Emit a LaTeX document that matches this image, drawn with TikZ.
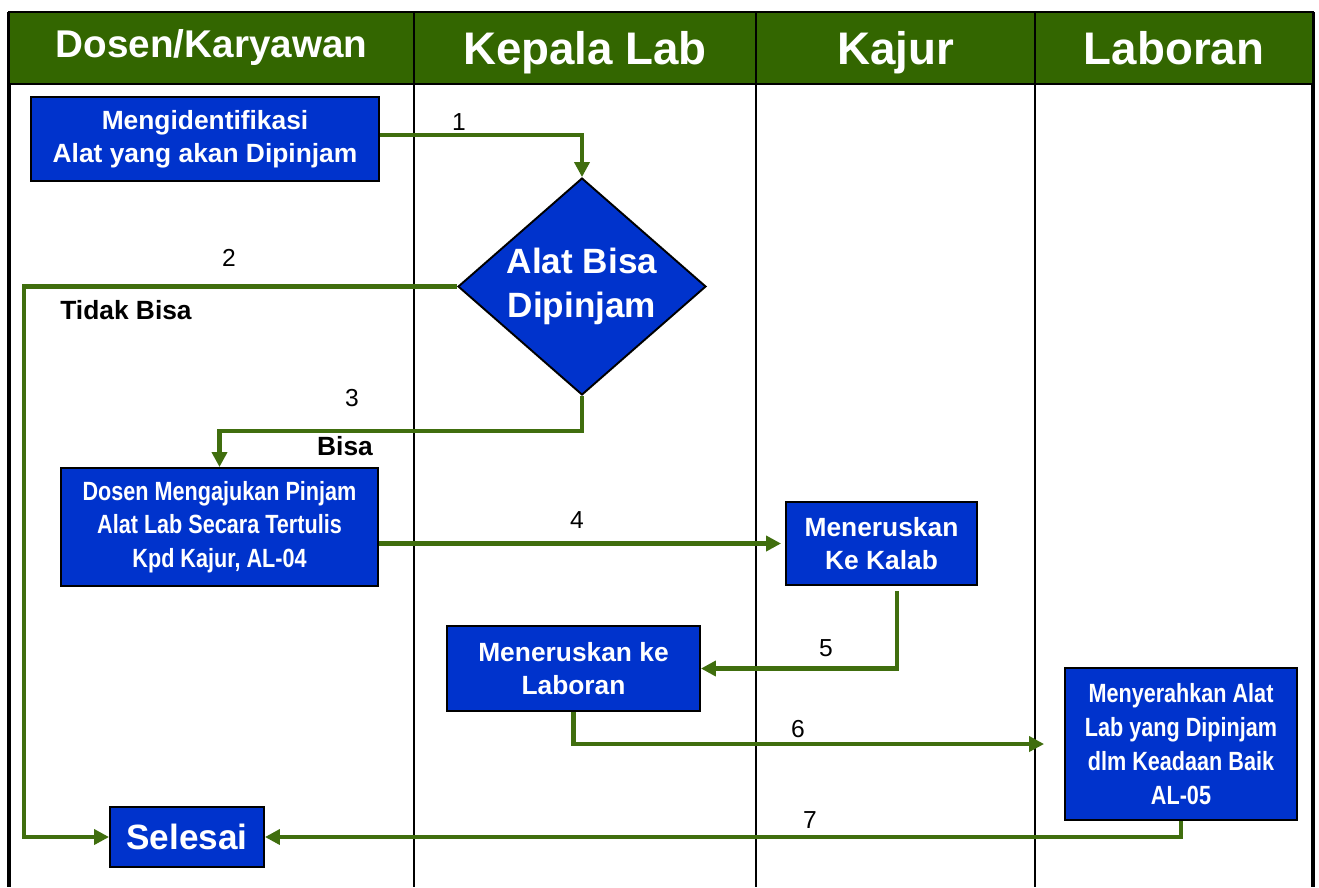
\documentclass[tikz,border=0pt]{standalone}
\usepackage{fontspec}
\setmainfont{Liberation Sans}
\newfontfamily\sempit[FakeStretch=0.82]{Liberation Sans}
\usetikzlibrary{shapes.geometric,arrows.meta}
\definecolor{hijautua}{RGB}{51,102,0}
\definecolor{hijaupanah}{RGB}{64,110,14}
\definecolor{birukotak}{RGB}{0,51,204}
\tikzset{
  judul/.style={draw=black, line width=1.6pt, fill=hijautua, text=white,
    font=\bfseries\fontsize{26}{30}\selectfont, minimum height=1.44cm, inner sep=0pt,
    text height=18.6pt, text depth=0pt},
  proses/.style={draw=black, line width=1.1pt, fill=birukotak, text=white, align=center,
    font=\bfseries\fontsize{15}{18.7}\selectfont, inner sep=0pt},
  prosessempit/.style={proses, font=\sempit\bfseries\fontsize{15}{19.2}\selectfont},
  keputusan/.style={proses, diamond, aspect=1.14, font=\bfseries\fontsize{20}{25}\selectfont},
  alur/.style={draw=hijaupanah, line width=2.3pt, -{Triangle[length=8.5pt,width=8.5pt]}},
  nomor/.style={font=\fontsize{14}{16}\selectfont, inner sep=0pt},
  syarat/.style={font=\bfseries\fontsize{15}{18}\selectfont, inner sep=0pt},
}
\begin{document}
\begin{tikzpicture}[x=0.02cm, y=-0.02cm]
    \useasboundingbox (0,0) rectangle (1319,887);
    % lajur
    \draw[line width=1.8pt] (9,12) -- (9,887);
    \draw[line width=1.8pt] (1313,12) -- (1313,887);
    \foreach \x in {414,756,1035} \draw[line width=0.9pt] (\x,84) -- (\x,887);
    \node[judul, minimum width=8.1cm, font=\bfseries\fontsize{22}{26}\selectfont,
        text height=15.75pt, text depth=5.5pt] (dosen) at (211.5,48) {Dosen/Karyawan};
    \node[judul, minimum width=6.84cm] (kalab) at (585,48) {Kepala Lab};
    \node[judul, minimum width=5.58cm] (kajurh) at (895.5,48) {Kajur};
    \node[judul, minimum width=5.56cm] (laboran) at (1174,48) {Laboran};

    % langkah
    \node[proses, minimum width=6.96cm, minimum height=1.68cm] (ident) at (205,139)
        {Mengidentifikasi\\Alat yang akan Dipinjam};
    \node[keputusan, minimum width=4.96cm, minimum height=4.34cm] (cek) at (582,286.5)
        {Alat Bisa\\Dipinjam};
    \node[prosessempit, minimum width=6.34cm, minimum height=2.36cm] (ajukan) at (219.5,527)
        {Dosen Mengajukan Pinjam\\Alat Lab Secara Tertulis\\Kpd Kajur, AL-04};
    \node[proses, minimum width=3.82cm, minimum height=1.66cm] (kajur) at (881.5,543.5)
        {Meneruskan\\Ke Kalab};
    \node[proses, minimum width=5.06cm, minimum height=1.7cm] (kelab) at (573.5,668.5)
        {Meneruskan ke\\Laboran};
    \node[prosessempit, minimum width=4.64cm, minimum height=3.04cm] (serah) at (1181,744)
        {Menyerahkan Alat\\Lab yang Dipinjam\\dlm Keadaan Baik\\AL-05};
    \node[proses, minimum width=3.08cm, minimum height=1.2cm,
        font=\bfseries\fontsize{20}{24}\selectfont] (selesai) at (187,837) {Selesai};
    \coordinate (kiri) at (24,0);

    % alur
    \draw[alur] ([yshift=0.08cm]ident.east) -| (cek.north);
    \draw[alur] (cek.west) -- (kiri |- cek.west) |- (selesai.west);
    \draw[alur] (cek.south) -- ++(0,35) -| (ajukan.north);
    \draw[alur] (ajukan.east |- kajur.west) -- ([xshift=-0.08cm]kajur.west);
    \draw[alur] ([xshift=0.31cm,yshift=-0.1cm]kajur.south) |- (kelab.east);
    \draw[alur] (kelab.south) |- ([xshift=-0.4cm]serah.west);
    \draw[alur] (serah.south) |- (selesai.east);

    % keterangan
    \node[nomor] (n1) at (459,122) {1};
    \node[nomor] (n2) at (229,258) {2};
    \node[syarat] (tidak) at (126,310) {Tidak Bisa};
    \node[nomor] (n3) at (352,398) {3};
    \node[syarat] (bisa) at (345,446) {Bisa};
    \node[nomor] (n4) at (577,520) {4};
    \node[nomor] (n5) at (826,648) {5};
    \node[nomor] (n6) at (798,729) {6};
    \node[nomor] (n7) at (810,820) {7};
\end{tikzpicture}
\end{document}
